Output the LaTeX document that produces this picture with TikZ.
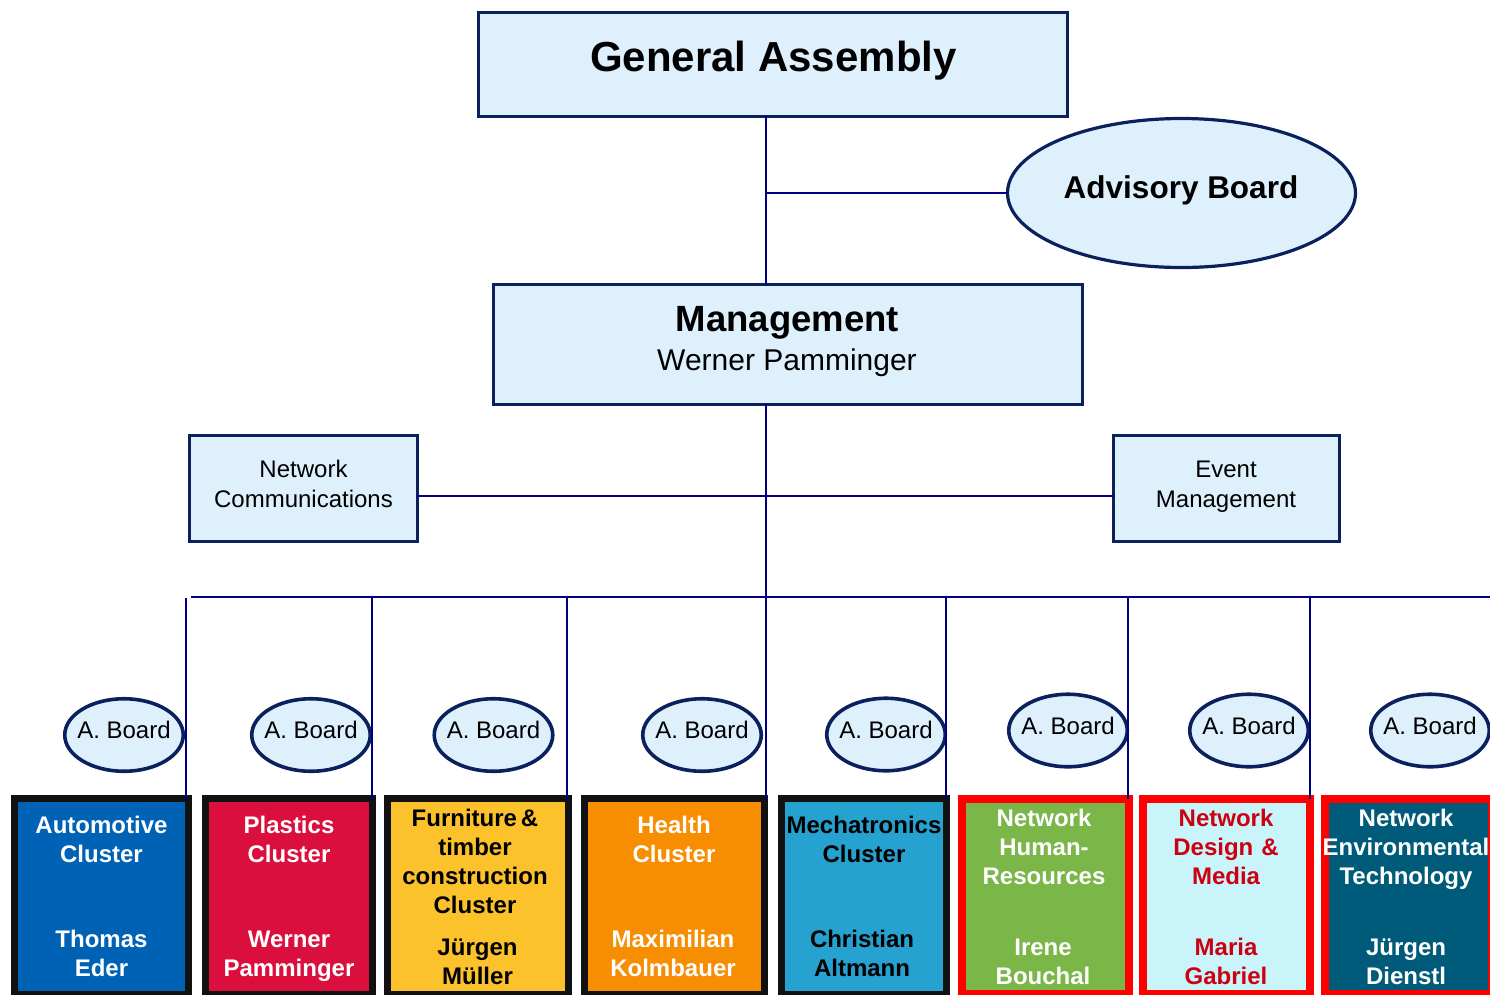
\documentclass[tikz,border=0pt]{standalone}
\usepackage{fontspec}
\setmainfont{Liberation Sans}
\usetikzlibrary{shapes.geometric}
\definecolor{lightfill}{HTML}{DFF0FD}
\definecolor{navyborder}{HTML}{0A215E}
\definecolor{linenavy}{HTML}{000080}
\definecolor{boxblack}{HTML}{111111}
\definecolor{boxred}{HTML}{FF0000}
\definecolor{cAuto}{HTML}{0062B5}
\definecolor{cPlast}{HTML}{DB0F3D}
\definecolor{cFurn}{HTML}{FBC22B}
\definecolor{cHealth}{HTML}{F78E02}
\definecolor{cMech}{HTML}{25A2D0}
\definecolor{cHR}{HTML}{7AB648}
\definecolor{cDesign}{HTML}{C9F4F9}
\definecolor{cEnv}{HTML}{005B7A}
\definecolor{txtred}{HTML}{CC0011}
\begin{document}
\begin{tikzpicture}[x=1pt,y=-1pt,
  topbox/.style={rectangle, draw=navyborder, line width=3.4pt, fill=lightfill, inner sep=0pt, outer sep=0pt},
  bigell/.style={ellipse, draw=navyborder, line width=3.2pt, fill=lightfill, inner sep=0pt, outer sep=0pt},
  smallell/.style={ellipse, draw=navyborder, line width=3.6pt, fill=lightfill, inner sep=0pt, outer sep=0pt, minimum width=118.5pt, minimum height=72.5pt},
  connline/.style={draw=linenavy, line width=2.2pt},
  blackbox/.style={rectangle, draw=boxblack, line width=7pt, inner sep=0pt, outer sep=0pt, minimum height=196pt},
  redbox/.style={rectangle, draw=boxred, line width=8pt, inner sep=0pt, outer sep=0pt, minimum height=195pt},
  ctext/.style={anchor=base, inner sep=0pt, text width=200pt, align=center, font=\fontsize{24}{29}\selectfont\bfseries},
  abtext/.style={anchor=base, inner sep=0pt, font=\fontsize{24}{29}\selectfont},
  sidetext/.style={anchor=base, inner sep=0pt, text width=220pt, align=center, font=\fontsize{24}{30}\selectfont}
]
\useasboundingbox (0,0) rectangle (1490,994);

% top boxes
\node[topbox, minimum width=588.6pt, minimum height=103.6pt] (GA) at (773,64.5) {};
\node[anchor=base, inner sep=0pt, font=\fontsize{42}{50}\selectfont\bfseries] (GAt) at (773.5,71) {General Assembly};

\node[bigell, minimum width=348pt, minimum height=149pt] (AB) at (1181.5,193) {};
\node[anchor=base, inner sep=0pt, font=\fontsize{31.5}{37}\selectfont\bfseries] (ABt) at (1181,198) {Advisory Board};

\node[topbox, minimum width=588.6pt, minimum height=119.6pt] (MG) at (788,344.5) {};
\node[anchor=base, inner sep=0pt, font=\fontsize{36.5}{43}\selectfont\bfseries] (MGt) at (787.5,331) {Management};
\node[anchor=base, inner sep=0pt, font=\fontsize{30}{36}\selectfont] (MGn) at (787,370) {Werner Pamminger};

\node[topbox, minimum width=227.6pt, minimum height=105.6pt] (NC) at (303.5,488.5) {};
\node[sidetext] (NCt) at (303.5,477) {Network\\Communications};
\node[topbox, minimum width=225.6pt, minimum height=105.6pt] (EM) at (1226.5,488.5) {};
\node[sidetext] (EMt) at (1226,477) {Event\\Management};

% spine coordinates
\coordinate (sp) at (766,193);
\coordinate (hc) at (766,496);
\coordinate (bar) at (766,597);
\coordinate (barL) at (191,597);
\coordinate (barR) at (1490,597);

\draw[connline] (GA.south -| sp) -- (MG.north -| sp);
\draw[connline] (sp) -- (AB.west);
\draw[connline] (MG.south -| sp) -- (bar);
\draw[connline] (NC.east |- hc) -- (EM.west |- hc);
\draw[connline] (barL) -- (barR);

% A. Board ellipses
\node[smallell] (E1) at (124,735) {};
\node[smallell] (E2) at (311,735) {};
\node[smallell] (E3) at (493.5,735) {};
\node[smallell] (E4) at (702,735) {};
\node[smallell] (E5) at (886,734.5) {};
\node[smallell] (E6) at (1068,730.5) {};
\node[smallell] (E7) at (1249,730.5) {};
\node[smallell] (E8) at (1430,730.5) {};
\foreach \e in {1,...,8}{
  \node[abtext] (E\e t) at ([yshift=-3.5pt]E\e.center) {A. Board};
}

% cluster boxes
\node[blackbox, fill=cAuto, minimum width=174pt] (B1) at (101.5,896.5) {};
\node[blackbox, fill=cPlast, minimum width=167pt] (B2) at (289,896.5) {};
\node[blackbox, fill=cFurn, minimum width=181.5pt] (B3) at (477.75,896.5) {};
\node[blackbox, fill=cHealth, minimum width=180pt] (B4) at (674.5,896.5) {};
\node[blackbox, fill=cMech, minimum width=165pt] (B5) at (864,896.5) {};
\node[redbox, fill=cHR, minimum width=167pt] (B6) at (1045.5,896.5) {};
\node[redbox, fill=cDesign, minimum width=167pt] (B7) at (1226.5,896.5) {};
\node[redbox, fill=cEnv, minimum width=167pt] (B8) at (1408.5,896.5) {};

% drop lines
\coordinate (d1) at (186,598);
\coordinate (d2) at (372,597);
\coordinate (d3) at (567,597);
\coordinate (d5) at (946,597);
\coordinate (d6) at (1128,597);
\coordinate (d7) at (1310,597);
\draw[connline] (d1) -- (d1 |- B1.north);
\draw[connline] (d2) -- (d2 |- B2.north);
\draw[connline] (d3) -- (d3 |- B3.north);
\draw[connline] (bar) -- (bar |- B4.north);
\draw[connline] (d5) -- (d5 |- B5.north);
\draw[connline] (d6) -- (d6 |- B6.north);
\draw[connline] (d7) -- (d7 |- B7.north);

% cluster texts
\node[ctext, text=white] (T1) at (101.5,833) {Automotive\\Cluster};
\node[ctext, text=white] (N1) at (101.5,947) {Thomas\\Eder};
\node[ctext, text=white] (T2) at (289,833) {Plastics\\Cluster};
\node[ctext, text=white] (N2) at (289,947) {Werner\\Pamminger};
\node[ctext, text=black] (T3) at (475,826) {Furniture\,\&\\timber\\construction\\Cluster};
\node[ctext, text=black] (N3) at (477.5,955) {Jürgen\\Müller};
\node[ctext, text=white] (T4) at (674,833) {Health\\Cluster};
\node[ctext, text=white] (N4) at (673,947) {Maximilian\\Kolmbauer};
\node[ctext, text=black] (T5) at (864,833) {Mechatronics\\Cluster};
\node[ctext, text=black] (N5) at (862,947) {Christian\\Altmann};
\node[ctext, text=white] (T6) at (1044,826) {Network\\Human-\\Resources};
\node[ctext, text=white] (N6) at (1043,955) {Irene\\Bouchal};
\node[ctext, text=txtred] (T7) at (1226,826) {Network\\Design \&\\Media};
\node[ctext, text=txtred] (N7) at (1226,955) {Maria\\Gabriel};
\node[ctext, text=white] (T8) at (1406,826) {Network\\Environmental\\Technology};
\node[ctext, text=white] (N8) at (1406,955) {Jürgen\\Dienstl};
\end{tikzpicture}
\end{document}
